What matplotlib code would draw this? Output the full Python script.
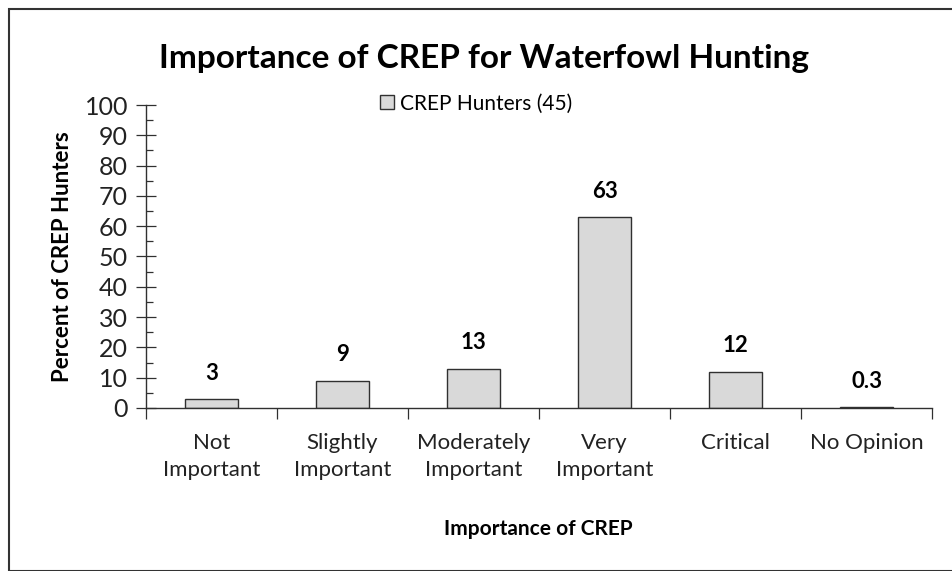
import matplotlib
matplotlib.use("Agg")
import matplotlib.pyplot as plt
from matplotlib.patches import Rectangle
import numpy as np

categories = ["Not\nImportant", "Slightly\nImportant", "Moderately\nImportant",
              "Very\nImportant", "Critical", "No Opinion"]
values = [3, 9, 13, 63, 12, 0.3]
value_labels = ["3", "9", "13", "63", "12", "0.3"]
series_name = "CREP Hunters (45)"

plt.rcParams["font.family"] = ["Lato", "DejaVu Sans"]

fig = plt.figure(figsize=(9.52, 5.71), dpi=100)
ax = fig.add_axes([0.1534, 0.2855, 0.8256, 0.5306])

x = np.arange(len(categories))
bars = ax.bar(x, values, width=0.41, color="#d9d9d9", edgecolor="#303030",
              linewidth=1.0, label=series_name)
for xi, v, lab in zip(x, values, value_labels):
    ax.annotate(lab, (xi, v), xytext=(0, 11), textcoords="offset points",
                ha="center", va="bottom", fontsize=16, fontweight="bold")

ax.set_xlim(-0.5, len(categories) - 0.5)
ax.set_ylim(0, 100)
ax.set_yticks(np.arange(0, 101, 10))
ax.set_yticks(np.arange(0, 101, 5), minor=True)
ax.set_xticks(x)
ax.set_xticklabels(categories, fontsize=16, color="#222222", linespacing=1.45)
ax.set_xticks(np.arange(-0.5, len(categories), 1), minor=True)
ax.tick_params(axis="x", which="major", length=0, pad=18)
ax.tick_params(axis="x", which="minor", length=8, direction="out", width=0.9,
               color="#303030")
ax.tick_params(axis="y", which="major", direction="inout", length=14, width=0.9,
               labelsize=18, labelcolor="#222222", pad=6, color="#303030")
ax.tick_params(axis="y", which="minor", direction="in", length=5, width=0.9,
               color="#303030")

for side in ["top", "right"]:
    ax.spines[side].set_visible(False)
for side in ["left", "bottom"]:
    ax.spines[side].set_linewidth(1.0)
    ax.spines[side].set_color("#303030")

ax.set_ylabel("Percent of CREP Hunters", fontsize=16, fontweight="bold", labelpad=8)
fig.text(0.565, 0.073, "Importance of CREP", fontsize=15, fontweight="bold",
         ha="center", va="center")
fig.text(0.508, 0.898, "Importance of CREP for Waterfowl Hunting", fontsize=24,
         fontweight="bold", ha="center", va="center")

ax.legend(loc="upper center", bbox_to_anchor=(0.42, 1.1), frameon=False,
          fontsize=15, handlelength=0.7, handleheight=0.7, handletextpad=0.3)

fig.add_artist(Rectangle((0.009, 0.0), 1.0, 0.985, transform=fig.transFigure,
                         fill=False, edgecolor="#333333", linewidth=1.5))

fig.savefig("out.png", dpi=100)
